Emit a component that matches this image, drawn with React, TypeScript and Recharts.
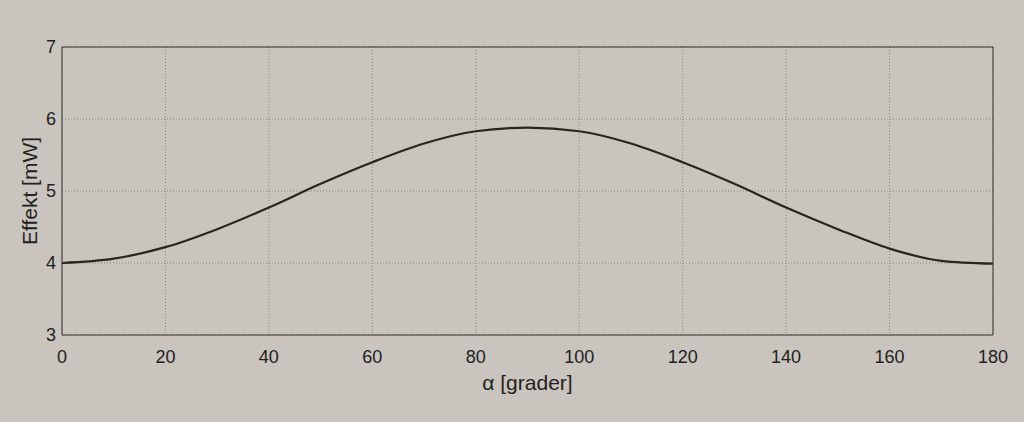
import React from 'react';
import { LineChart, Line, XAxis, YAxis, CartesianGrid, Label } from 'recharts';

const angles = [0, 10, 20, 30, 40, 50, 60, 70, 80, 90, 100, 110, 120, 130, 140, 150, 160, 170, 180];
const power = [4.0, 4.06, 4.22, 4.47, 4.77, 5.1, 5.4, 5.66, 5.83, 5.88, 5.83, 5.66, 5.4, 5.1, 4.77, 4.47, 4.2, 4.03, 3.99];
const xTicks = [0, 20, 40, 60, 80, 100, 120, 140, 160, 180];
const yTicks = [3, 4, 5, 6, 7];

const data = angles.map((a, i) => ({ a, p: power[i] }));

const font = '"Liberation Sans", Arial, sans-serif';
const tickStyle = { fontSize: 18, fill: '#222', fontFamily: font };

export default function App() {
  return (
    <div style={{ position: 'absolute', left: 0, top: 0, width: 1024, height: 422, background: '#c9c4bd' }}>
      <LineChart width={1024} height={422} data={data} margin={{ top: 46, right: 30, bottom: 57, left: 22 }}>
        <CartesianGrid stroke="#8a8580" strokeDasharray="1 2" />
        <XAxis
          dataKey="a"
          type="number"
          domain={[0, 180]}
          ticks={xTicks}
          stroke="#333"
          tickLine={false}
          tickMargin={9}
          height={30}
          tick={tickStyle}
        >
          <Label value="α [grader]" position="bottom" offset={10} style={{ fontSize: 21, fill: '#222', fontFamily: font }} />
        </XAxis>
        <XAxis xAxisId="top" orientation="top" dataKey="a" type="number" domain={[0, 180]} tick={false} tickLine={false} stroke="#333" height={1} />
        <YAxis
          domain={[3, 7]}
          ticks={yTicks}
          stroke="#333"
          tickLine={false}
          tickSize={0}
          tickMargin={6}
          width={40}
          tick={tickStyle}
        >
          <Label value="Effekt [mW]" angle={-90} position="insideLeft" offset={8} style={{ fontSize: 21, fill: '#222', fontFamily: font, textAnchor: 'middle' }} />
        </YAxis>
        <YAxis yAxisId="right" orientation="right" domain={[3, 7]} tick={false} tickLine={false} stroke="#333" width={1} />
        <Line dataKey="p" type="monotone" stroke="#2a2420" strokeWidth={2.2} dot={false} isAnimationActive={false} />
      </LineChart>
    </div>
  );
}
